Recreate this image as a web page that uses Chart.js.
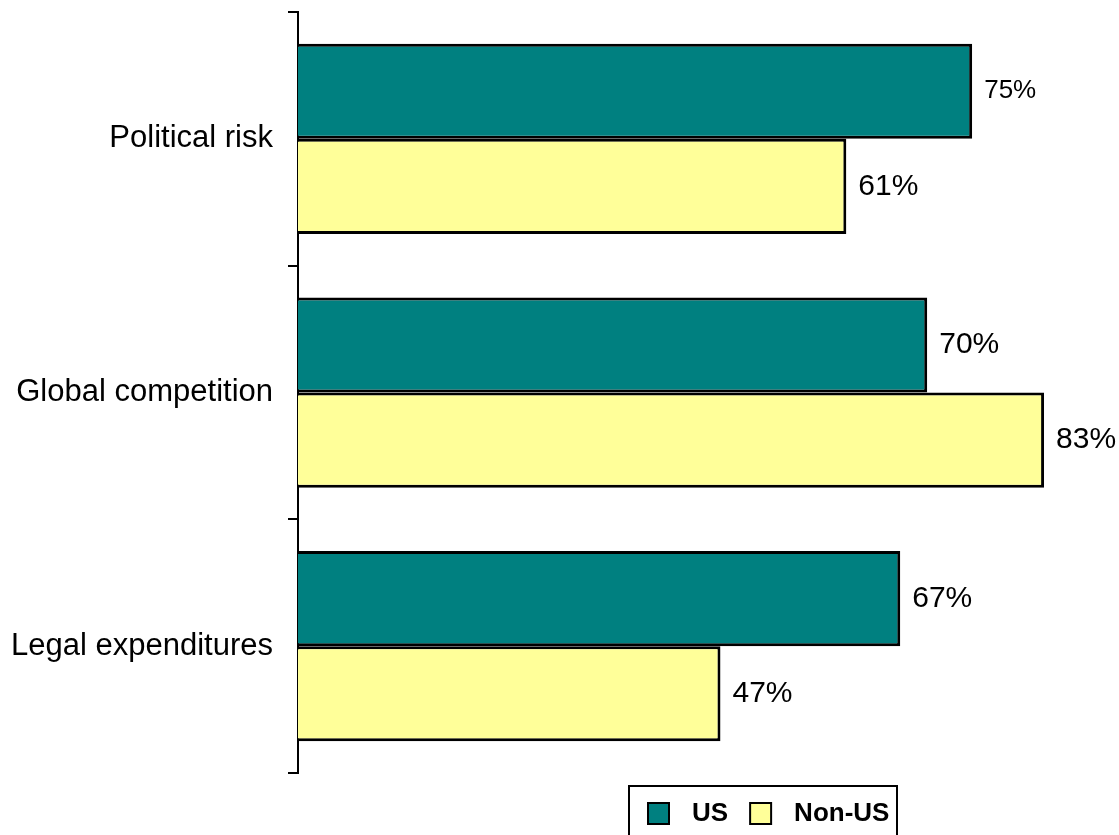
<!DOCTYPE html>
<html>
<head>
<meta charset="utf-8">
<title>US vs Non-US</title>
<script src="https://cdn.jsdelivr.net/npm/chart.js@4/dist/chart.umd.min.js"></script>
<style>
    html, body { margin: 0; padding: 0; background: #ffffff; }
    #chart { display: block; }
</style>
</head>
<body>
<canvas id="chart" width="1119" height="835"></canvas>
<script>
// ========================================
// DATA
// ========================================
const categories = ['Political risk', 'Global competition', 'Legal expenditures'];
const usValues = [75, 70, 67];
const nonUsValues = [61, 83, 47];
const seriesNames = ['US', 'Non-US'];

const FONT = '"Liberation Sans", Arial, sans-serif';

// ========================================
// PLUGINS
// ========================================
// percentage text at the end of every bar
const valueLabels = {
    id: 'valueLabels',
    afterDatasetsDraw(chart) {
        const ctx = chart.ctx;
        ctx.save();
        ctx.fillStyle = '#000';
        ctx.textAlign = 'left';
        ctx.textBaseline = 'middle';
        chart.data.datasets.forEach((ds, di) => {
            chart.getDatasetMeta(di).data.forEach((bar, i) => {
                const size = (di === 0 && i === 0) ? 26 : 30;
                ctx.font = size + 'px ' + FONT;
                ctx.fillText(ds.data[i] + '%', bar.x + 12, bar.y);
            });
        });
        ctx.restore();
    }
};

// boxed legend under the plot, bottom edge runs off the canvas
const boxLegend = {
    id: 'boxLegend',
    afterDraw(chart) {
        const ctx = chart.ctx;
        const left = 629, top = 786, right = 897;
        ctx.save();
        ctx.strokeStyle = '#000';
        ctx.lineWidth = 2;
        ctx.strokeRect(left, top, right - left, 70);

        ctx.font = 'bold 26px ' + FONT;
        ctx.textBaseline = 'middle';
        let x = left + 19;
        const midY = 814;
        chart.data.datasets.forEach(ds => {
            ctx.fillStyle = ds.backgroundColor;
            ctx.fillRect(x, midY - 11, 21, 21);
            ctx.lineWidth = 2;
            ctx.strokeRect(x, midY - 11, 21, 21);
            ctx.fillStyle = '#000';
            ctx.fillText(ds.label, x + 44, midY);
            x += 44 + ctx.measureText(ds.label).width + 22;
        });
        ctx.restore();
    }
};

// ========================================
// CHART
// ========================================
new Chart(document.getElementById('chart'), {
    type: 'bar',
    data: {
        labels: categories,
        datasets: [
            {
                label: seriesNames[0],
                data: usValues,
                backgroundColor: '#008080',
                borderColor: '#000',
                borderWidth: 3
            },
            {
                label: seriesNames[1],
                data: nonUsValues,
                backgroundColor: '#ffff99',
                borderColor: '#000',
                borderWidth: 3
            }
        ]
    },
    options: {
        indexAxis: 'y',
        responsive: false,
        animation: false,
        layout: { padding: { top: 12, right: 12, bottom: 62, left: 0 } },
        datasets: {
            bar: { categoryPercentage: 0.75, barPercentage: 1 }
        },
        plugins: {
            legend: { display: false },
            tooltip: { enabled: false }
        },
        scales: {
            x: {
                display: false,
                min: 0,
                max: 90
            },
            y: {
                afterFit(scale) {
                    scale.width = 298;
                    scale.paddingTop = 0;
                    scale.paddingBottom = 0;
                },
                border: { display: true, color: '#000', width: 2 },
                grid: {
                    drawOnChartArea: false,
                    color: '#000',
                    lineWidth: 2,
                    tickLength: 10
                },
                ticks: {
                    color: '#000',
                    padding: 15,
                    font: { family: FONT, size: 31 }
                }
            }
        }
    },
    plugins: [valueLabels, boxLegend]
});
</script>
</body>
</html>
